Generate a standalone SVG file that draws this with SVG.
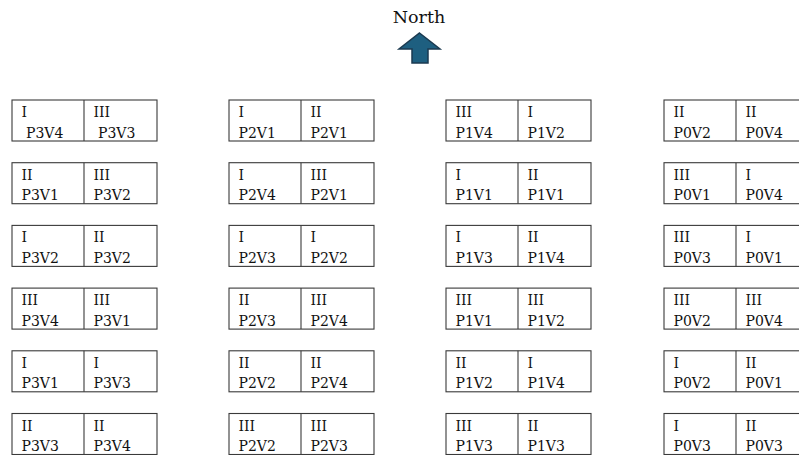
<svg xmlns="http://www.w3.org/2000/svg" width="799" height="455" viewBox="0 0 799 455">
<style>
.b{fill:#fff;stroke:#3a3a3a;stroke-width:1.1}
.d{stroke:#3a3a3a;stroke-width:1.1}
text{font-family:"DejaVu Serif","Liberation Serif",serif;font-size:14px;fill:#111}
.n{font-size:17.5px;text-anchor:middle}
</style>
<rect width="799" height="455" fill="#fff"/>
<g id="north">
<text class="n" x="419" y="23">North</text>
<path d="M419.5,33 L440,49 L428,49 L428,63 L412,63 L412,49 L399,49 Z" fill="#1e5f80" stroke="#1b3a50" stroke-width="1.5" stroke-linejoin="miter"/>
</g>
<defs>
<g id="cell"><rect class="b" x="0" y="0" width="145" height="41"/><line class="d" x1="72" y1="0" x2="72" y2="41"/></g>
</defs>
<!-- Column P3 -->
<g id="p3r1" transform="translate(12,100)"><use href="#cell"/><text x="9.5" y="17">I</text><text x="14" y="37.5">P3V4</text><text x="81.5" y="17">III</text><text x="86" y="37.5">P3V3</text></g>
<g id="p3r2" transform="translate(12,162.7)"><use href="#cell"/><text x="9.5" y="17">II</text><text x="9.5" y="37.5">P3V1</text><text x="81.5" y="17">III</text><text x="81.5" y="37.5">P3V2</text></g>
<g id="p3r3" transform="translate(12,225.4)"><use href="#cell"/><text x="9.5" y="17">I</text><text x="9.5" y="37.5">P3V2</text><text x="81.5" y="17">II</text><text x="81.5" y="37.5">P3V2</text></g>
<g id="p3r4" transform="translate(12,288.1)"><use href="#cell"/><text x="9.5" y="17">III</text><text x="9.5" y="37.5">P3V4</text><text x="81.5" y="17">III</text><text x="81.5" y="37.5">P3V1</text></g>
<g id="p3r5" transform="translate(12,350.8)"><use href="#cell"/><text x="9.5" y="17">I</text><text x="9.5" y="37.5">P3V1</text><text x="81.5" y="17">I</text><text x="81.5" y="37.5">P3V3</text></g>
<g id="p3r6" transform="translate(12,413.5)"><use href="#cell"/><text x="9.5" y="17">II</text><text x="9.5" y="37.5">P3V3</text><text x="81.5" y="17">II</text><text x="81.5" y="37.5">P3V4</text></g>
<!-- Column P2 -->
<g id="p2r1" transform="translate(229,100)"><use href="#cell"/><text x="9.5" y="17">I</text><text x="9.5" y="37.5">P2V1</text><text x="81.5" y="17">II</text><text x="81.5" y="37.5">P2V1</text></g>
<g id="p2r2" transform="translate(229,162.7)"><use href="#cell"/><text x="9.5" y="17">I</text><text x="9.5" y="37.5">P2V4</text><text x="81.5" y="17">III</text><text x="81.5" y="37.5">P2V1</text></g>
<g id="p2r3" transform="translate(229,225.4)"><use href="#cell"/><text x="9.5" y="17">I</text><text x="9.5" y="37.5">P2V3</text><text x="81.5" y="17">I</text><text x="81.5" y="37.5">P2V2</text></g>
<g id="p2r4" transform="translate(229,288.1)"><use href="#cell"/><text x="9.5" y="17">II</text><text x="9.5" y="37.5">P2V3</text><text x="81.5" y="17">III</text><text x="81.5" y="37.5">P2V4</text></g>
<g id="p2r5" transform="translate(229,350.8)"><use href="#cell"/><text x="9.5" y="17">II</text><text x="9.5" y="37.5">P2V2</text><text x="81.5" y="17">II</text><text x="81.5" y="37.5">P2V4</text></g>
<g id="p2r6" transform="translate(229,413.5)"><use href="#cell"/><text x="9.5" y="17">III</text><text x="9.5" y="37.5">P2V2</text><text x="81.5" y="17">III</text><text x="81.5" y="37.5">P2V3</text></g>
<!-- Column P1 -->
<g id="p1r1" transform="translate(446,100)"><use href="#cell"/><text x="9.5" y="17">III</text><text x="9.5" y="37.5">P1V4</text><text x="81.5" y="17">I</text><text x="81.5" y="37.5">P1V2</text></g>
<g id="p1r2" transform="translate(446,162.7)"><use href="#cell"/><text x="9.5" y="17">I</text><text x="9.5" y="37.5">P1V1</text><text x="81.5" y="17">II</text><text x="81.5" y="37.5">P1V1</text></g>
<g id="p1r3" transform="translate(446,225.4)"><use href="#cell"/><text x="9.5" y="17">I</text><text x="9.5" y="37.5">P1V3</text><text x="81.5" y="17">II</text><text x="81.5" y="37.5">P1V4</text></g>
<g id="p1r4" transform="translate(446,288.1)"><use href="#cell"/><text x="9.5" y="17">III</text><text x="9.5" y="37.5">P1V1</text><text x="81.5" y="17">III</text><text x="81.5" y="37.5">P1V2</text></g>
<g id="p1r5" transform="translate(446,350.8)"><use href="#cell"/><text x="9.5" y="17">II</text><text x="9.5" y="37.5">P1V2</text><text x="81.5" y="17">I</text><text x="81.5" y="37.5">P1V4</text></g>
<g id="p1r6" transform="translate(446,413.5)"><use href="#cell"/><text x="9.5" y="17">III</text><text x="9.5" y="37.5">P1V3</text><text x="81.5" y="17">II</text><text x="81.5" y="37.5">P1V3</text></g>
<!-- Column P0 -->
<g id="p0r1" transform="translate(664,100)"><use href="#cell"/><text x="9.5" y="17">II</text><text x="9.5" y="37.5">P0V2</text><text x="81.5" y="17">II</text><text x="81.5" y="37.5">P0V4</text></g>
<g id="p0r2" transform="translate(664,162.7)"><use href="#cell"/><text x="9.5" y="17">III</text><text x="9.5" y="37.5">P0V1</text><text x="81.5" y="17">I</text><text x="81.5" y="37.5">P0V4</text></g>
<g id="p0r3" transform="translate(664,225.4)"><use href="#cell"/><text x="9.5" y="17">III</text><text x="9.5" y="37.5">P0V3</text><text x="81.5" y="17">I</text><text x="81.5" y="37.5">P0V1</text></g>
<g id="p0r4" transform="translate(664,288.1)"><use href="#cell"/><text x="9.5" y="17">III</text><text x="9.5" y="37.5">P0V2</text><text x="81.5" y="17">III</text><text x="81.5" y="37.5">P0V4</text></g>
<g id="p0r5" transform="translate(664,350.8)"><use href="#cell"/><text x="9.5" y="17">I</text><text x="9.5" y="37.5">P0V2</text><text x="81.5" y="17">II</text><text x="81.5" y="37.5">P0V1</text></g>
<g id="p0r6" transform="translate(664,413.5)"><use href="#cell"/><text x="9.5" y="17">I</text><text x="9.5" y="37.5">P0V3</text><text x="81.5" y="17">II</text><text x="81.5" y="37.5">P0V3</text></g>
</svg>
